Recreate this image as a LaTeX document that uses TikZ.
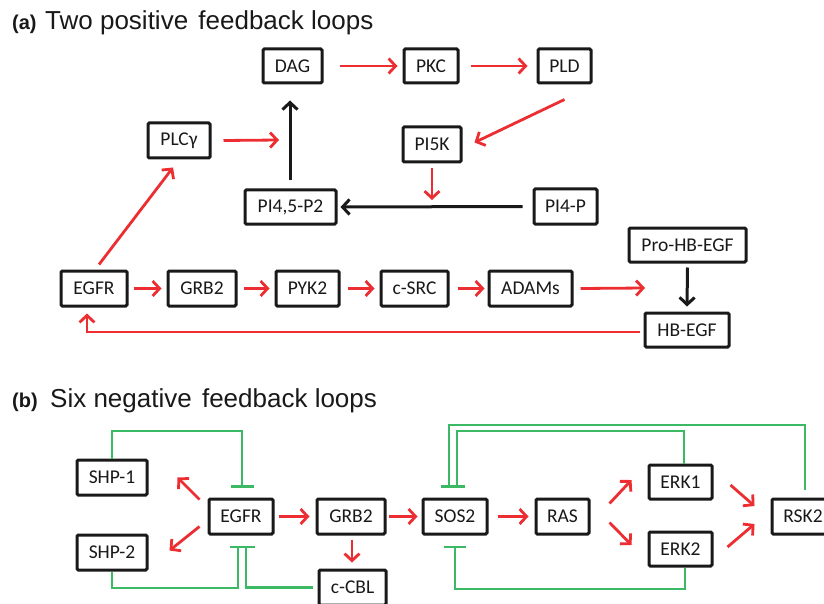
\documentclass[tikz,border=0pt]{standalone}
\usepackage{fontspec}
\setmainfont{Carlito}
\newfontfamily\titlefont{Liberation Sans}
\usetikzlibrary{arrows.meta,calc}
\definecolor{actred}{RGB}{236,45,50}
\definecolor{inhgreen}{RGB}{60,185,100}
\tikzset{
  box/.style={draw=black!90, line width=3pt, rounded corners=1.2pt, inner sep=0pt,
    font=\fontsize{19.5}{21}\selectfont, text=black!90},
  act/.style={draw=actred, line width=2.8pt, -{Straight Barb[length=7pt,width=15pt]}},
  blk/.style={draw=black!90, line width=3pt, -{Straight Barb[length=7pt,width=15pt]}},
  inh/.style={draw=inhgreen, line width=2.6pt, -{Bar[width=#1]}},
  inh/.default=23pt,
  ttl/.style={anchor=base west, inner sep=0pt, text=black!90}
}
\begin{document}
\begin{tikzpicture}[x=1pt,y=-1pt]
\useasboundingbox (0,0) rectangle (824,604);
\clip (0,0) rectangle (824,604);

% titles
\node[ttl, font=\titlefont\bfseries\fontsize{20}{20}\selectfont] (la) at (12,30) {(a)};
\node[ttl, font=\titlefont\fontsize{26}{26}\selectfont] (ta) at (45,30) {Two positive\hspace{3pt} feedback loops};
\node[ttl, font=\titlefont\bfseries\fontsize{20}{20}\selectfont] (lb) at (12,407) {(b)};
\node[ttl, font=\titlefont\fontsize{26}{26}\selectfont] (tb) at (50,407) {Six negative\hspace{3pt} feedback loops};

% ---------- (a) nodes ----------
\node[box, minimum width=59pt, minimum height=34pt] (dag) at (292.5,66) {DAG};
\node[box, minimum width=54pt, minimum height=34pt] (pkc) at (431,66) {PKC};
\node[box, minimum width=53pt, minimum height=34pt] (pld) at (564.5,66) {PLD};
\node[box, minimum width=62pt, minimum height=35pt] (plc) at (179,140.5) {PLCγ};
\node[box, minimum width=58pt, minimum height=35pt] (pifk) at (432,144.5) {PI5K};
\node[box, minimum width=91pt, minimum height=34pt] (pifp) at (290.5,207) {PI4,5-P2};
\node[box, minimum width=63pt, minimum height=35pt] (pifourp) at (565.5,206.5) {PI4-P};
\node[box, minimum width=117pt, minimum height=34pt] (prohb) at (687.5,245) {Pro-HB-EGF};
\node[box, minimum width=84pt, minimum height=34pt] (hbegf) at (687,330) {HB-EGF};
\node[box, minimum width=66pt, minimum height=35pt] (egfra) at (94,288.5) {EGFR};
\node[box, minimum width=68pt, minimum height=35pt] (grbta) at (202,288.5) {GRB2};
\node[box, minimum width=63pt, minimum height=35pt] (pyk) at (307.5,288.5) {PYK2};
\node[box, minimum width=67pt, minimum height=35pt] (csrc) at (414.5,288.5) {c-SRC};
\node[box, minimum width=83pt, minimum height=35pt] (adams) at (530.5,288.5) {ADAMs};

\coordinate (m1) at (432,207);
\coordinate (m2) at (290,140);
\coordinate (m3) at (687,288);

% ---------- (a) connectors ----------
\draw[act] ($(dag.east)+(16,0)$) -- ($(pkc.west)+(-5,0)$);
\draw[act] ($(pkc.east)+(11,0)$) -- ($(pld.west)+(-9,0)$);
\draw[act] ($(pld.south)+(0,15)$) -- ($(pifk.east)+(12,-2)$);
\draw[act] ($(pifk.south)+(0,5)$) -- ($(m1)+(0,-7)$);
\draw[blk] ($(pifourp.west)+(-10,0)$) -- ($(pifp.east)+(3,0)$);
\draw[blk] ($(pifp.north)+(-0.5,-8)$) -- ($(pifp.north |- dag.south)+(-0.5,16)$);
\draw[act] ($(plc.east)+(12,0)$) -- ($(m2)+(-11,0)$);
\draw[act] ($(egfra.north)+(5,-5)$) -- ($(plc.south)+(-6,8)$);
\draw[act] ($(egfra.east)+(5,0)$) -- ($(grbta.west)+(-5,0)$);
\draw[act] ($(grbta.east)+(6,0)$) -- ($(pyk.west)+(-5,0)$);
\draw[act] ($(pyk.east)+(7,0)$) -- ($(csrc.west)+(-5,0)$);
\draw[act] ($(csrc.east)+(8,0)$) -- ($(adams.west)+(-3,0)$);
\draw[act] ($(adams.east)+(7,0)$) -- ($(m3)+(-42,0)$);
\draw[blk] ($(prohb.south)+(0,4)$) -- ($(hbegf.north)+(0,-5)$);
\draw[act] ($(hbegf.west)+(-4,2)$) -| ($(egfra.south)+(-7,6)$);

% ---------- (b) nodes ----------
\node[box, minimum width=70pt, minimum height=35pt] (shpa) at (112,477.5) {SHP-1};
\node[box, minimum width=70pt, minimum height=35pt] (shpb) at (112,552.5) {SHP-2};
\node[box, minimum width=64pt, minimum height=35pt] (egfrb) at (241,516.5) {EGFR};
\node[box, minimum width=68pt, minimum height=35pt] (grbtb) at (351,516.5) {GRB2};
\node[box, minimum width=67pt, minimum height=35pt] (ccbl) at (352.5,587.5) {c-CBL};
\node[box, minimum width=64pt, minimum height=35pt] (sos) at (455,516.5) {SOS2};
\node[box, minimum width=53pt, minimum height=35pt] (ras) at (562.5,516.5) {RAS};
\node[box, minimum width=63pt, minimum height=34pt] (erka) at (680.5,482) {ERK1};
\node[box, minimum width=63pt, minimum height=34pt] (erkb) at (680.5,549) {ERK2};
\node[box, minimum width=62pt, minimum height=35pt] (rsk) at (803,516.5) {RSK2};

% ---------- (b) activations ----------
\draw[act] ($(egfrb.north west)+(-8,2)$) -- ($(shpa.east)+(29,0)$);
\draw[act] ($(egfrb.south west)+(-8,-9)$) -- ($(shpb.east)+(21,-2)$);
\draw[act] ($(egfrb.east)+(4,0)$) -- ($(grbtb.west)+(-6,0)$);
\draw[act] ($(grbtb.east)+(2,0)$) -- ($(sos.west)+(-4,0)$);
\draw[act] ($(grbtb.south)+(1,4)$) -- ($(ccbl.north)+(-0.5,-6)$);
\draw[act] ($(sos.east)+(9,0)$) -- ($(ras.west)+(-6,0)$);
\draw[act] ($(ras.north east)+(19,6)$) -- ($(erka.west)+(-16,-2)$);
\draw[act] ($(ras.south east)+(19,-13)$) -- ($(erkb.west)+(-16,-4)$);
\draw[act] ($(erka.east)+(17,3)$) -- ($(rsk.west)+(-16,-10.5)$);
\draw[act] ($(erkb.east)+(14,-2)$) -- ($(rsk.west)+(-16,7.5)$);

% ---------- (b) inhibitions ----------
\coordinate (ga) at (242,431);
\coordinate (gb) at (238,588);
\coordinate (gc) at (457,431);
\coordinate (gd) at (449,425);
\coordinate (ge) at (455,589);
\draw[inh] (shpa.north) |- (ga) -- ($(egfrb.north)+(1,-10)$);
\draw[inh=17pt] (shpb.south) |- (gb) -- ($(egfrb.south)+(-3,10)$);
\draw[inh=17pt] ($(ccbl.west)+(-5,0)$) -| ($(egfrb.south)+(5,10)$);
\draw[inh=16pt] ($(erka.north)+(3.5,0)$) |- (gc) -- ($(sos.north)+(2,-10)$);
\draw[inh=16pt] ($(rsk.north)+(2,-8)$) |- (gd) -- ($(sos.north)+(-6,-10)$);
\draw[inh=22pt] ($(erkb.south)+(4.5,0)$) |- (ge) -- ($(sos.south)+(0,10)$);
\end{tikzpicture}
\end{document}
